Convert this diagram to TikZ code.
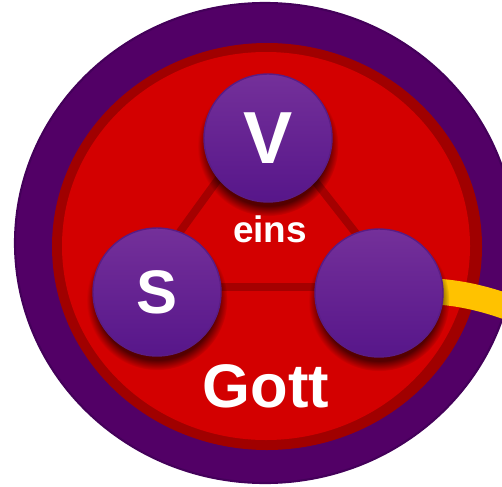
\documentclass[tikz,border=0pt]{standalone}
\usepackage{fontspec}
\setmainfont{Liberation Sans}
\usetikzlibrary{backgrounds,shadows}

\definecolor{ring}{HTML}{520066}
\definecolor{ringedge}{HTML}{44005A}
\definecolor{darkred}{HTML}{A00000}
\definecolor{godred}{HTML}{D30000}
\definecolor{linkred}{HTML}{A40000}
\definecolor{persontop}{HTML}{74309A}
\definecolor{personbot}{HTML}{57168A}
\definecolor{personrim}{HTML}{5A1C84}
\definecolor{bandyellow}{HTML}{FFC200}

\begin{document}
\begin{tikzpicture}[x=0.02cm, y=-0.02cm,
        person/.style={
        circle, draw=personrim, line width=0.8pt,
        top color=persontop, bottom color=personbot,
        inner sep=0pt, minimum size=2.56cm,
        text=white,
        circular drop shadow={shadow xshift=0pt, shadow yshift=-4pt,
          shadow scale=1.1, fill=black, opacity=.6}},
        link/.style={draw=linkred, line width=4.5pt},
        band/.style={draw=bandyellow, line width=14.7pt},
        word/.style={text=white, inner sep=0pt, anchor=base},
        ]

        \useasboundingbox (0,0) rectangle (502,486);

        \node (vater) [person, font=\bfseries\fontsize{42}{42}\selectfont] at (268,138) {V};
        \node (sohn) [person, font=\bfseries\fontsize{35}{35}\selectfont] at (157,292) {S};
        \node (geist) [person] at (379,293) {};

        \node (eins) [word, font=\bfseries\fontsize{21}{21}\selectfont] at (270,242) {eins};
        \node (gott) [word, font=\bfseries\fontsize{35}{35}\selectfont] at (266,407) {Gott};

        \coordinate (bandend) at (545,322);

        \begin{pgfonlayer}{background}
        \fill[ring, draw=ringedge, line width=1.2pt] (265,243) ellipse [x radius=250, y radius=240];
        \fill[darkred] (267,246.5) ellipse [x radius=215, y radius=203.5];
        \fill[godred] (266,246) ellipse [x radius=204, y radius=194];

        \draw[band] (geist.center) .. controls (440,287) and (480,293) .. (bandend);
        \draw[link] ([shift={(-4,-22)}]vater.center) -- ([shift={(-17,-5)}]sohn.center)
          -- ([shift={(19,-6)}]geist.center) -- cycle;
        \end{pgfonlayer}
    \end{tikzpicture}
\end{document}
